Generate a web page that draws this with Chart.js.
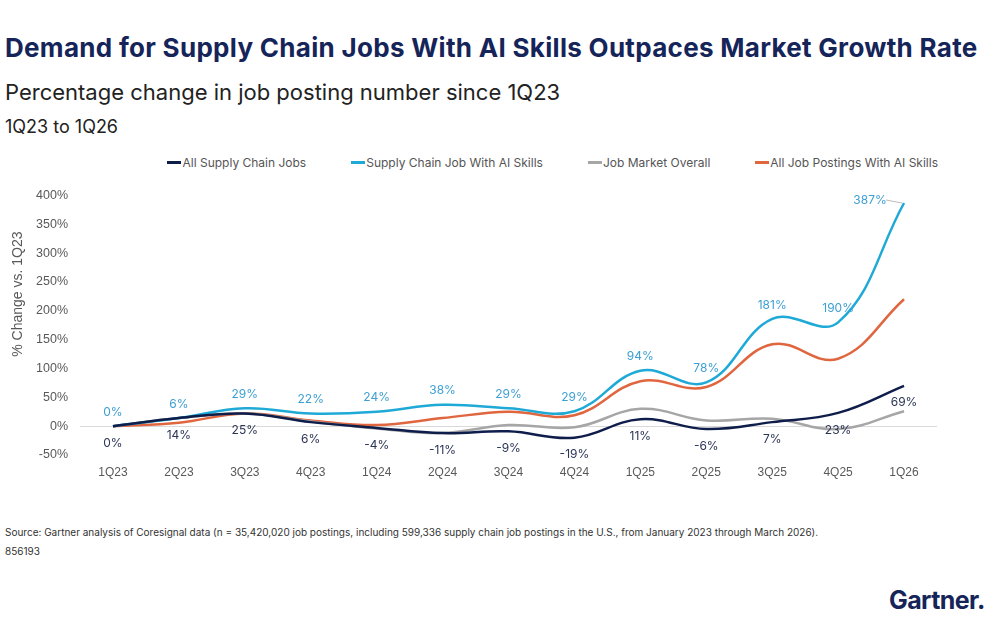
<!DOCTYPE html>
<html>
<head>
<meta charset="utf-8">
<script src="https://cdn.jsdelivr.net/npm/chart.js@4"></script>
<style>
  html, body { margin: 0; padding: 0; background: #fff; }
  body { width: 1005px; height: 622px; position: relative; overflow: hidden; font-family: Inter, "Noto Sans", sans-serif; }
  .t { position: absolute; left: 5px; white-space: nowrap; }
  #title { top: 32px; font-size: 26px; font-weight: 700; color: #152459; letter-spacing: 0.3px; }
  #sub { top: 79px; font-size: 22px; color: #222; }
  #range { top: 116px; font-size: 18px; color: #222; }
  #legend { position: absolute; top: 155px; right: 67px; display: flex; font-size: 12px; color: #555; }
  #legend .item { display: flex; align-items: center; margin-left: 45px; }
  #legend .sw { width: 14px; height: 3px; margin-right: 1px; }
  #wrap { position: absolute; left: 0; top: 176px; width: 1005px; height: 314px; }
  #source { top: 526px; font-size: 10px; color: #333; }
  #code { top: 545px; font-size: 10px; color: #333; }
  #logo { position: absolute; left: 889px; top: 585px; font-size: 25px; font-weight: 700; color: #152459; letter-spacing: -0.6px; }
</style>
</head>
<body>
<div class="t" id="title">Demand for Supply Chain Jobs With AI Skills Outpaces Market Growth Rate</div>
<div class="t" id="sub">Percentage change in job posting number since 1Q23</div>
<div class="t" id="range">1Q23 to 1Q26</div>
<div id="legend"></div>
<div id="wrap"><canvas id="chart"></canvas></div>
<div class="t" id="source">Source: Gartner analysis of Coresignal data (n = 35,420,020 job postings, including 599,336 supply chain job postings in the U.S., from January 2023 through March 2026).</div>
<div class="t" id="code">856193</div>
<div id="logo">Gartner.</div>

<script>
const quarters = ['1Q23', '2Q23', '3Q23', '4Q23', '1Q24', '2Q24', '3Q24', '4Q24', '1Q25', '2Q25', '3Q25', '4Q25', '1Q26'];
const seriesNames = ['All Supply Chain Jobs', 'Supply Chain Job With AI Skills', 'Job Market Overall', 'All Job Postings With AI Skills'];
const supplyChainJobs = [0, 14, 22, 7, -3, -12, -9, -20, 12, -5, 7, 23, 70];
const supplyChainAI = [0, 14, 31, 22, 25, 37, 31, 26, 96, 76, 186, 180, 387];
const jobMarket = [0, 14, 22, 8, -4, -12, 2, -2, 30, 10, 13, -5, 26];
const allAI = [0, 6, 22, 10, 2, 14, 25, 19, 78, 68, 142, 117, 220];
// printed labels (as shown on the chart)
const aiLabels = [0, 6, 29, 22, 24, 38, 29, 29, 94, 78, 181, 190, 387];
const jobsLabels = [0, 14, 25, 6, -4, -11, -9, -19, 11, -6, 7, 23, 69];
const yTicks = [-50, 0, 50, 100, 150, 200, 250, 300, 350, 400];

const colors = ['#0f1d4a', '#1fa9d6', '#a6a6a6', '#e0663f'];
const seriesData = [supplyChainJobs, supplyChainAI, jobMarket, allAI];

// html legend
const legendDiv = document.getElementById('legend');
seriesNames.forEach((name, i) => {
    legendDiv.innerHTML += `<div class="item"><span class="sw" style="background:${colors[i]}"></span>${name}</div>`;
});

// value labels plugin
const valueLabels = {
    id: 'valueLabels',
    afterDatasetsDraw(chart) {
        const c = chart.ctx;
        const xs = chart.scales.x;
        const ys = chart.scales.y;
        c.save();
        c.font = '12px Inter, "Noto Sans", sans-serif';
        c.textAlign = 'center';
        c.textBaseline = 'middle';
        quarters.forEach((q, i) => {
            const x = xs.getPixelForValue(i);
            // AI supply chain labels above the cyan line
            const yA = ys.getPixelForValue(supplyChainAI[i]);
            c.fillStyle = '#3d9fd3';
            if (i === quarters.length - 1) {
                c.fillText(aiLabels[i] + '%', x - 34, yA - 3);
                c.strokeStyle = '#bbb';
                c.lineWidth = 1;
                c.beginPath();
                c.moveTo(x - 18, yA - 3);
                c.lineTo(x - 2, yA);
                c.stroke();
            } else {
                c.fillText(aiLabels[i] + '%', x, yA - 14);
            }
            // all supply chain labels below the navy line
            const yJ = ys.getPixelForValue(supplyChainJobs[i]);
            c.fillStyle = '#2b3556';
            c.fillText(jobsLabels[i] + '%', x, yJ + 17);
        });
        c.restore();
    }
};

const ctx = document.getElementById('chart').getContext('2d');
const chart = new Chart(ctx, {
    type: 'line',
    data: {
        labels: quarters,
        datasets: seriesNames.map((name, i) => ({
            label: name,
            data: seriesData[i],
            borderColor: colors[i],
            backgroundColor: colors[i],
            borderWidth: 2.5,
            pointRadius: 0,
            tension: 0.4
        }))
    },
    options: {
        responsive: true,
        maintainAspectRatio: false,
        animation: false,
        layout: { padding: { top: 10, right: 68, bottom: 0, left: 0 } },
        plugins: {
            legend: { display: false },
            tooltip: { enabled: false }
        },
        scales: {
            x: {
                offset: true,
                grid: { display: false, drawTicks: false },
                border: { display: false },
                ticks: { color: '#595959', font: { size: 12 }, padding: 10 },
                afterFit: scale => { scale.height = 35; }
            },
            y: {
                min: yTicks[0],
                max: yTicks[yTicks.length - 1],
                grid: {
                    drawTicks: false,
                    color: c => (c.tick && c.tick.value === 0 ? '#d9d9d9' : 'rgba(0,0,0,0)')
                },
                border: { display: false },
                afterBuildTicks: scale => { scale.ticks = yTicks.map(v => ({ value: v })); },
                ticks: {
                    color: '#595959',
                    font: { size: 12.5 },
                    padding: 12,
                    callback: v => v + '%'
                },
                title: {
                    display: true,
                    // leading spaces nudge the rotated title upward, as in the original
                    text: '\u00a0'.repeat(16) + '% Change vs. 1Q23',
                    color: '#595959',
                    font: { size: 14 },
                    padding: { top: 10, bottom: 0 }
                },
                afterFit: scale => { scale.width = 80; }
            }
        }
    },
    plugins: [valueLabels]
});
</script>
</body>
</html>
